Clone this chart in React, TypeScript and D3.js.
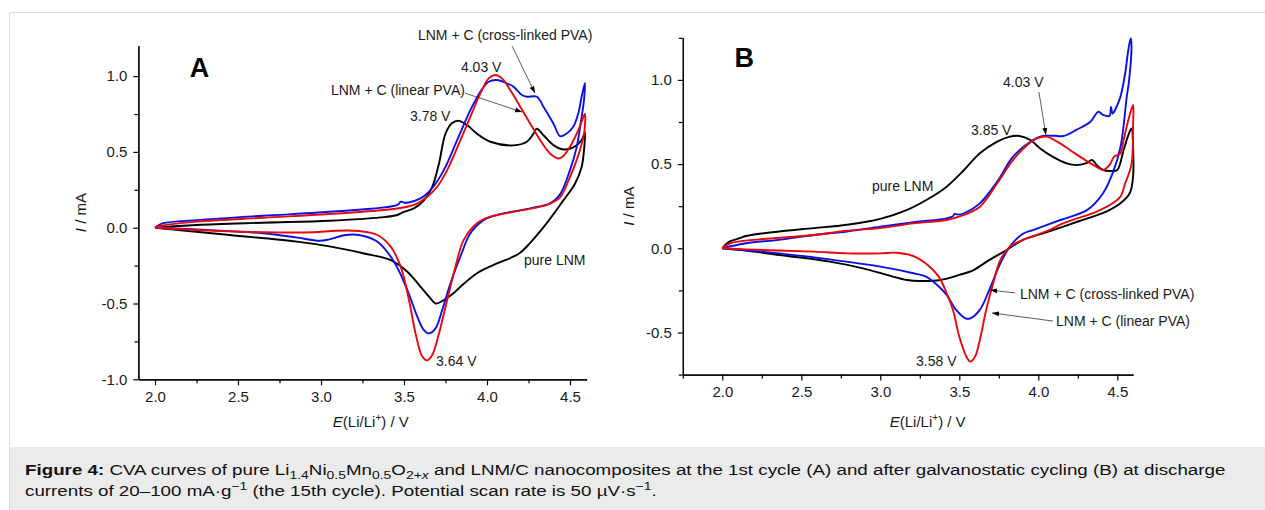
import React, { useEffect, useRef } from 'react';
import * as d3 from 'd3';

// cyclic voltammograms, [E (V), I (mA)], anodic sweep then cathodic back to 2.0 V
// panel A: 1st cycle
const pureA: [number, number][] = [
  [2.0, 0], [2.25, 0.018], [2.65, 0.033], [3.05, 0.046], [3.36, 0.068], [3.46, 0.084], [3.5, 0.105],
  [3.56, 0.127], [3.62, 0.18], [3.67, 0.27], [3.71, 0.42], [3.75, 0.62], [3.79, 0.69], [3.83, 0.705],
  [3.88, 0.677], [3.94, 0.62], [4.02, 0.567], [4.16, 0.543], [4.24, 0.567], [4.28, 0.62], [4.3, 0.653],
  [4.34, 0.61], [4.4, 0.545], [4.46, 0.516], [4.52, 0.53], [4.57, 0.578], [4.59, 0.63],
  [4.585, 0.52], [4.57, 0.4], [4.53, 0.29], [4.46, 0.18], [4.36, 0.03], [4.26, -0.1], [4.2, -0.165],
  [4.14, -0.2], [4.04, -0.245], [3.94, -0.3], [3.86, -0.37], [3.8, -0.43], [3.75, -0.47], [3.69, -0.5],
  [3.66, -0.467], [3.6, -0.39], [3.52, -0.29], [3.42, -0.214], [3.26, -0.17], [3.06, -0.125],
  [2.855, -0.092], [2.45, -0.048], [2.0, 0],
];
const linearA: [number, number][] = [
  [2.0, 0], [2.03, 0.012], [2.09, 0.022], [2.25, 0.04], [2.65, 0.066], [3.05, 0.09], [3.46, 0.127],
  [3.56, 0.15], [3.64, 0.204], [3.7, 0.27], [3.76, 0.38], [3.84, 0.578], [3.9, 0.732], [3.96, 0.886],
  [4.01, 0.985], [4.05, 1.007], [4.09, 0.985], [4.14, 0.908], [4.2, 0.798], [4.26, 0.688], [4.32, 0.578],
  [4.38, 0.49], [4.43, 0.457], [4.46, 0.473], [4.5, 0.534], [4.55, 0.644], [4.57, 0.7], [4.59, 0.75],
  [4.585, 0.62], [4.57, 0.55], [4.54, 0.446], [4.5, 0.336], [4.44, 0.2], [4.36, 0.15], [4.16, 0.105],
  [4.02, 0.073], [3.94, 0.03], [3.86, -0.08], [3.81, -0.257], [3.76, -0.477], [3.71, -0.7], [3.67, -0.84],
  [3.64, -0.875], [3.61, -0.85], [3.57, -0.7], [3.53, -0.477], [3.48, -0.257], [3.42, -0.125],
  [3.34, -0.048], [3.23, -0.022], [3.09, -0.02], [2.95, -0.03], [2.65, -0.03], [2.25, -0.015], [2.0, 0],
];
const crossA: [number, number][] = [
  [2.0, 0], [2.02, 0.015], [2.05, 0.03], [2.25, 0.05], [2.65, 0.079], [3.05, 0.105], [3.46, 0.15],
  [3.48, 0.171], [3.5, 0.165], [3.52, 0.165], [3.6, 0.193], [3.66, 0.248], [3.74, 0.38], [3.82, 0.578],
  [3.9, 0.776], [3.96, 0.897], [4.01, 0.963], [4.06, 0.974], [4.12, 0.952], [4.16, 0.93], [4.21, 0.875],
  [4.24, 0.864], [4.3, 0.864], [4.34, 0.798], [4.4, 0.688], [4.44, 0.604], [4.48, 0.622], [4.52, 0.666],
  [4.55, 0.754], [4.57, 0.864], [4.59, 0.955],
  [4.585, 0.85], [4.57, 0.73], [4.54, 0.53], [4.5, 0.38], [4.44, 0.22], [4.38, 0.16], [4.26, 0.128],
  [4.06, 0.084], [3.98, 0.05], [3.9, -0.037], [3.84, -0.19], [3.78, -0.367], [3.73, -0.543], [3.69, -0.664],
  [3.65, -0.697], [3.62, -0.675], [3.58, -0.587], [3.52, -0.41], [3.44, -0.224], [3.34, -0.092],
  [3.23, -0.048], [3.15, -0.048], [3.05, -0.077], [2.99, -0.086], [2.85, -0.064], [2.65, -0.037],
  [2.25, -0.012], [2.0, 0],
];

// panel B: after galvanostatic cycling (15th cycle)
const pureB: [number, number][] = [
  [2.0, 0], [2.03, 0.03], [2.06, 0.045], [2.11, 0.06], [2.15, 0.073], [2.36, 0.1], [2.58, 0.12],
  [2.79, 0.14], [3.0, 0.175], [3.17, 0.228], [3.31, 0.297], [3.42, 0.366], [3.53, 0.465], [3.63, 0.564],
  [3.74, 0.633], [3.82, 0.663], [3.88, 0.667], [3.95, 0.643], [4.01, 0.594], [4.09, 0.544], [4.18, 0.504],
  [4.24, 0.494], [4.3, 0.504], [4.34, 0.524], [4.37, 0.494], [4.41, 0.465], [4.47, 0.459], [4.5, 0.465],
  [4.54, 0.583], [4.57, 0.672], [4.59, 0.712],
  [4.6, 0.6], [4.6, 0.43], [4.58, 0.33], [4.52, 0.267], [4.43, 0.218], [4.26, 0.162], [4.05, 0.095],
  [3.9, 0.049], [3.8, -0.01], [3.69, -0.069], [3.59, -0.129], [3.5, -0.158], [3.38, -0.188], [3.25, -0.194],
  [3.17, -0.188], [3.04, -0.158], [2.89, -0.119], [2.68, -0.079], [2.36, -0.04], [2.15, -0.014], [2.0, 0],
];
const linearB: [number, number][] = [
  [2.0, 0], [2.05, 0.03], [2.1, 0.04], [2.26, 0.055], [2.58, 0.079], [2.79, 0.105], [3.0, 0.12],
  [3.21, 0.148], [3.42, 0.168], [3.53, 0.198], [3.63, 0.247], [3.74, 0.386], [3.84, 0.525], [3.93, 0.613],
  [3.99, 0.653], [4.05, 0.663], [4.12, 0.633], [4.2, 0.584], [4.28, 0.534], [4.35, 0.494], [4.41, 0.465],
  [4.45, 0.494], [4.48, 0.544], [4.52, 0.564], [4.54, 0.643], [4.57, 0.762], [4.6, 0.851],
  [4.6, 0.74], [4.59, 0.5], [4.55, 0.386], [4.52, 0.307], [4.47, 0.267], [4.37, 0.218], [4.16, 0.149],
  [4.05, 0.1], [3.9, 0.049], [3.82, 0.01], [3.76, -0.069], [3.72, -0.188], [3.67, -0.366], [3.63, -0.544],
  [3.6, -0.643], [3.57, -0.673], [3.55, -0.653], [3.5, -0.525], [3.46, -0.366], [3.42, -0.267],
  [3.37, -0.168], [3.3, -0.099], [3.21, -0.046], [3.1, -0.026], [3.0, -0.03], [2.79, -0.03], [2.58, -0.02],
  [2.26, -0.01], [2.0, 0],
];
const crossB: [number, number][] = [
  [2.0, 0], [2.15, 0.03], [2.36, 0.05], [2.58, 0.079], [2.79, 0.1], [3.0, 0.129], [3.21, 0.155],
  [3.42, 0.178], [3.46, 0.19], [3.47, 0.204], [3.49, 0.2], [3.53, 0.208], [3.63, 0.267], [3.74, 0.396],
  [3.84, 0.544], [3.95, 0.633], [4.03, 0.667], [4.1, 0.668], [4.16, 0.667], [4.24, 0.703], [4.33, 0.752],
  [4.38, 0.811], [4.41, 0.792], [4.45, 0.786], [4.46, 0.84], [4.47, 0.8], [4.49, 0.83], [4.52, 0.9],
  [4.55, 1.04], [4.57, 1.18], [4.585, 1.247],
  [4.59, 1.2], [4.575, 1.0], [4.56, 0.9], [4.52, 0.6], [4.47, 0.445], [4.41, 0.327], [4.31, 0.228],
  [4.14, 0.168], [3.97, 0.11], [3.9, 0.085], [3.82, 0.01], [3.76, -0.089], [3.69, -0.247], [3.63, -0.366],
  [3.57, -0.416], [3.54, -0.416], [3.48, -0.366], [3.42, -0.277], [3.36, -0.218], [3.29, -0.168],
  [3.21, -0.148], [3.0, -0.109], [2.68, -0.066], [2.36, -0.03], [2.0, 0],
];

const majorX = [2.0, 2.5, 3.0, 3.5, 4.0, 4.5];
const minorXA = [2.25, 2.75, 3.25, 3.75, 4.25];
const minorXB = [1.75, 2.25, 2.75, 3.25, 3.75, 4.25];
const majorYA = [-1.0, -0.5, 0.0, 0.5, 1.0];
const minorYA = [-0.75, -0.25, 0.25, 0.75];
const majorYB = [-0.5, 0.0, 0.5, 1.0];
const minorYB = [-0.75, -0.25, 0.25, 0.75, 1.25];

const RED = '#e8080c';
const BLUE = '#0a10e6';
const BLACK = '#000';
const FONT = '"Liberation Sans", Arial, sans-serif';

const panels = [
  {
    letter: 'A', letterAt: [2.21, 0.994],
    xDomain: [1.9, 4.6], xRange: [138.4, 586.6], yDomain: [-1.0, 1.2], yRange: [379.3, 45.8],
    minorX: minorXA, majorY: majorYA, minorY: minorYA,
    series: [[pureA, BLACK], [crossA, BLUE], [linearA, RED]],
    yTitleX: 86, xTitleAt: 3.3,
    labels: [
      { t: 'LNM + C (cross-linked PVA)', at: [3.584, 1.238] },
      { t: '4.03 V', at: [3.843, 1.027] },
      { t: 'LNM + C (linear PVA)', at: [3.06, 0.875] },
      { t: '3.78 V', at: [3.536, 0.704] },
      { t: 'pure LNM', at: [4.223, -0.246] },
      { t: '3.64 V', at: [3.693, -0.912] },
    ],
    arrows: [
      [[4.151, 1.198], [4.289, 0.888]],
      [[3.867, 0.888], [4.211, 0.763]],
    ],
  },
  {
    letter: 'B', letterAt: [2.077, 1.076],
    xDomain: [1.75, 4.6], xRange: [682.8, 1133.1], yDomain: [-0.75, 1.25], yRange: [374.6, 37.8],
    minorX: minorXB, majorY: majorYB, minorY: minorYB,
    series: [[pureB, BLACK], [crossB, BLUE], [linearB, RED]],
    yTitleX: 634, xTitleAt: 3.3,
    labels: [
      { t: '4.03 V', at: [3.777, 0.958] },
      { t: '3.85 V', at: [3.574, 0.673] },
      { t: 'pure LNM', at: [2.947, 0.34] },
      { t: 'LNM + C (cross-linked PVA)', at: [3.884, -0.3] },
      { t: 'LNM + C (linear PVA)', at: [4.112, -0.46] },
      { t: '3.58 V', at: [3.226, -0.699] },
    ],
    arrows: [
      [[4.004, 0.928], [4.048, 0.673]],
      [[3.853, -0.265], [3.695, -0.248]],
      [[4.093, -0.432], [3.707, -0.384]],
    ],
  },
];

type Seg = { t: string; b?: boolean; sub?: boolean; sup?: boolean };
const captionLine1: Seg[] = [
  { t: 'Figure 4:', b: true }, { t: ' CVA curves of pure Li' }, { t: '1.4', sub: true }, { t: 'Ni' },
  { t: '0.5', sub: true }, { t: 'Mn' }, { t: '0.5', sub: true }, { t: 'O' }, { t: '2+x', sub: true },
  { t: ' and LNM/C nanocomposites at the 1st cycle (A) and after galvanostatic cycling (B) at discharge' },
];
const captionLine2: Seg[] = [
  { t: 'currents of 20\u2013100 mA\u00b7g' }, { t: '\u22121', sup: true },
  { t: ' (the 15th cycle). Potential scan rate is 50 \u00b5V\u00b7s' }, { t: '\u22121', sup: true }, { t: '.' },
];

const App = () => {
  const ref = useRef<SVGSVGElement>(null);

  useEffect(() => {
    const svg = d3.select(ref.current);
    svg.selectAll('*').remove();

    svg.append('defs').append('marker')
      .attr('id', 'arr')
      .attr('viewBox', '0 0 10 10')
      .attr('refX', 10).attr('refY', 5)
      .attr('markerWidth', 7).attr('markerHeight', 7)
      .attr('markerUnits', 'userSpaceOnUse')
      .attr('orient', 'auto')
      .append('path').attr('d', 'M0,1.5L10,5L0,8.5Z').attr('fill', '#000');

    // figure frame + caption box
    svg.append('rect').attr('x', 9).attr('y', 447).attr('width', 1256).attr('height', 63).attr('fill', '#ebebeb');
    svg.append('path').attr('d', 'M9.5,510V12.5H1265').attr('fill', 'none').attr('stroke', '#dcdcdc');

    panels.forEach(p => {
      const x = d3.scaleLinear().domain(p.xDomain).range(p.xRange);
      const y = d3.scaleLinear().domain(p.yDomain).range(p.yRange);
      const g = svg.append('g');

      const line = d3.line<[number, number]>()
        .x(d => x(d[0]))
        .y(d => y(d[1]))
        .curve(d3.curveCatmullRom.alpha(0.5));

      p.series.forEach(([data, color]) => {
        g.append('path')
          .datum(data as [number, number][])
          .attr('fill', 'none')
          .attr('stroke', color as string)
          .attr('stroke-width', 1.9)
          .attr('stroke-linejoin', 'round')
          .attr('d', line);
      });

      const fmt = (d: d3.NumberValue) => (+d).toFixed(1);
      const styleAxis = (sel: d3.Selection<SVGGElement, unknown, null, undefined>) => {
        sel.attr('font-family', FONT).attr('font-size', 15);
        sel.selectAll('path, line').attr('stroke', '#000').attr('stroke-width', 1.2);
        sel.selectAll('text').attr('fill', '#1a1a1a');
      };

      const y0 = p.yRange[0];
      const x0 = p.xRange[0];

      g.append('g').attr('transform', `translate(0,${y0})`)
        .call(d3.axisBottom(x).tickValues(majorX).tickFormat(fmt).tickSize(6).tickPadding(6).tickSizeOuter(0))
        .call(styleAxis);
      g.append('g').attr('transform', `translate(0,${y0})`)
        .call(d3.axisBottom(x).tickValues(p.minorX).tickFormat(() => '').tickSize(4).tickSizeOuter(0))
        .call(styleAxis);
      g.append('g').attr('transform', `translate(${x0},0)`)
        .call(d3.axisLeft(y).tickValues(p.majorY).tickFormat(fmt).tickSize(5).tickPadding(6).tickSizeOuter(0))
        .call(styleAxis);
      g.append('g').attr('transform', `translate(${x0},0)`)
        .call(d3.axisLeft(y).tickValues(p.minorY).tickFormat(() => '').tickSize(4).tickSizeOuter(0))
        .call(styleAxis);

      // axis titles
      const xt = g.append('text')
        .attr('x', x(p.xTitleAt)).attr('y', 427)
        .attr('text-anchor', 'middle').attr('font-family', FONT).attr('font-size', 15).attr('fill', '#1a1a1a');
      xt.append('tspan').attr('font-style', 'italic').text('E');
      xt.append('tspan').text('(Li/Li');
      xt.append('tspan').attr('font-size', 10).attr('dy', -6).text('+');
      xt.append('tspan').attr('dy', 6).text(') / V');

      const yMid = (p.yRange[0] + p.yRange[1]) / 2;
      const yt = g.append('text')
        .attr('transform', `translate(${p.yTitleX},${yMid}) rotate(-90)`)
        .attr('text-anchor', 'middle').attr('font-family', FONT).attr('font-size', 15).attr('fill', '#1a1a1a');
      yt.append('tspan').attr('font-style', 'italic').text('I');
      yt.append('tspan').text(' / mA');

      g.append('text')
        .attr('x', x(p.letterAt[0])).attr('y', y(p.letterAt[1]))
        .attr('font-family', FONT).attr('font-weight', 'bold').attr('font-size', 27).attr('fill', '#000')
        .text(p.letter);

      p.labels.forEach(l => {
        g.append('text')
          .attr('x', x(l.at[0])).attr('y', y(l.at[1]))
          .attr('font-family', FONT).attr('font-size', 14).attr('fill', '#1a1a1a')
          .text(l.t);
      });

      p.arrows.forEach(([a, b]) => {
        g.append('line')
          .attr('x1', x(a[0])).attr('y1', y(a[1]))
          .attr('x2', x(b[0])).attr('y2', y(b[1]))
          .attr('stroke', '#333').attr('stroke-width', 0.8)
          .attr('marker-end', 'url(#arr)');
      });
    });

    // caption - the original text is set a bit wide, so stretch it to the same line length
    const cap = svg.append('g');
    const writeLine = (segs: Seg[], yPos: number) => {
      const t = cap.append('text')
        .attr('x', 0).attr('y', yPos)
        .attr('font-family', FONT).attr('font-size', 15.5).attr('fill', '#111');
      let shift = 0;
      segs.forEach(s => {
        const target = s.sub ? 4 : s.sup ? -6 : 0;
        const ts = t.append('tspan').attr('dy', target - shift);
        shift = target;
        if (s.b) ts.attr('font-weight', 'bold');
        if (s.sub || s.sup) ts.attr('font-size', 11.5);
        if (s.t === '2+x') {
          ts.append('tspan').text('2+');
          ts.append('tspan').attr('font-style', 'italic').text('x');
        } else {
          ts.text(s.t);
        }
      });
      return t;
    };
    const first = writeLine(captionLine1, 475);
    writeLine(captionLine2, 496);
    const w = (first.node() as SVGTextElement).getBBox().width || 1000;
    const k = 1201 / w;
    cap.attr('transform', `translate(25,0) scale(${k},1)`);
  }, []);

  return (
    <svg
      ref={ref}
      width={1265}
      height={510}
      style={{ position: 'absolute', left: 0, top: 0, background: '#fff' }}
    />
  );
};

export default App;
